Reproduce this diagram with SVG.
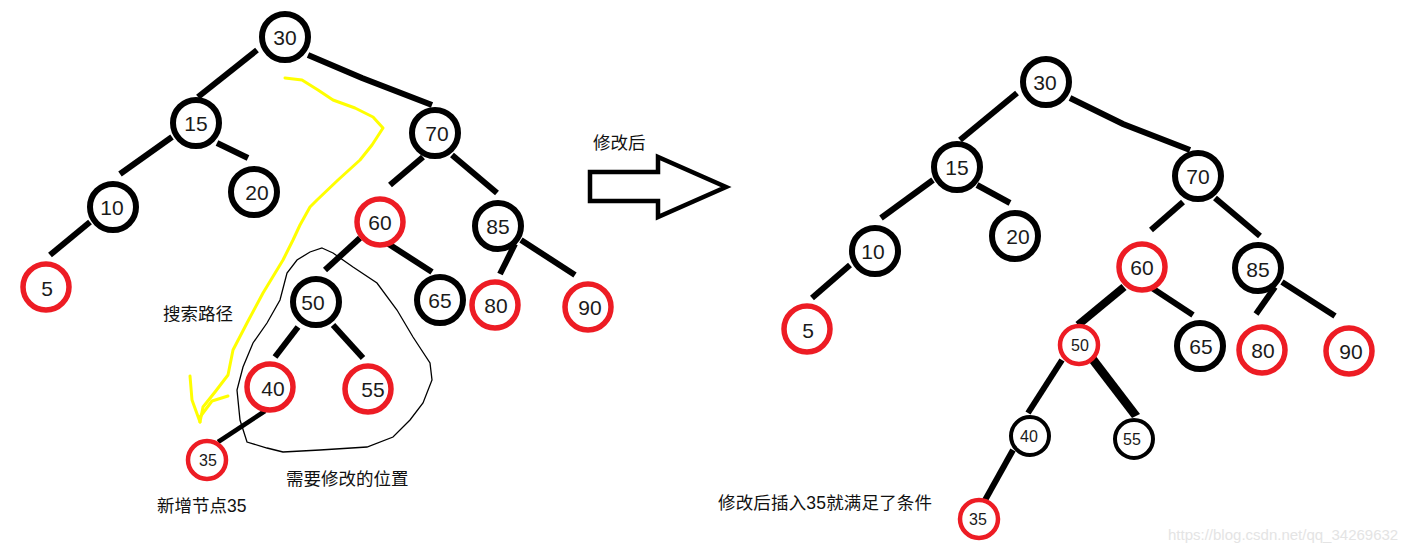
<svg xmlns="http://www.w3.org/2000/svg" width="1420" height="551" viewBox="0 0 1420 551">
<style>
.n{fill:#fff;stroke:#000;stroke-width:6}
.r{fill:#fff;stroke:#ed1c24;stroke-width:5.5}
.ns{fill:#fff;stroke:#000;stroke-width:4}
.rs{fill:#fff;stroke:#ed1c24;stroke-width:4.5}
.t{font-family:"Liberation Sans","Noto Sans CJK SC",sans-serif;font-size:21px;fill:#1a1a1a;text-anchor:middle}
.ts{font-family:"Liberation Sans","Noto Sans CJK SC",sans-serif;font-size:16px;fill:#1a1a1a;text-anchor:middle}
.lab{font-family:"Liberation Sans","Noto Sans CJK SC",sans-serif;font-size:17.5px;fill:#111}
.e{stroke:#000;stroke-width:6;stroke-linecap:butt;fill:none}
</style>
<rect width="1420" height="551" fill="#fff"/>
<g id="connectors">
<line class="e" x1="257" y1="50" x2="198" y2="97"/>
<polyline class="e" points="308,55 362,78 432,105"/>
<line class="e" x1="172" y1="137" x2="120" y2="174"/>
<line class="e" x1="217" y1="143" x2="248" y2="158"/>
<line class="e" x1="90" y1="222" x2="50" y2="255"/>
<line class="e" x1="423" y1="157" x2="390" y2="185"/>
<line class="e" x1="452" y1="155" x2="497" y2="193"/>
<line class="e" x1="360" y1="238" x2="325" y2="270"/>
<line class="e" x1="387" y1="243" x2="432" y2="272"/>
<line class="e" x1="515" y1="244" x2="500" y2="274"/>
<line class="e" x1="521" y1="240" x2="575" y2="275"/>
<line class="e" x1="298" y1="327" x2="275" y2="357"/>
<line class="e" x1="333" y1="325" x2="363" y2="358"/>
<line class="e" style="stroke-width:4.5" x1="265" y1="411" x2="218" y2="442"/>
<line class="e" x1="1017" y1="93" x2="960" y2="140"/>
<polyline class="e" points="1070,98 1123,124 1190,150"/>
<line class="e" x1="933" y1="180" x2="881" y2="218"/>
<line class="e" x1="977" y1="185" x2="1010" y2="203"/>
<line class="e" x1="850" y1="265" x2="812" y2="298"/>
<line class="e" x1="1183" y1="202" x2="1151" y2="230"/>
<line class="e" x1="1215" y1="198" x2="1260" y2="236"/>
<line class="e" x1="1152" y1="288" x2="1193" y2="315"/>
<line class="e" x1="1275" y1="287" x2="1256" y2="314"/>
<line class="e" x1="1282" y1="282" x2="1335" y2="316"/>
<line class="e" style="stroke-width:8" x1="1124" y1="287" x2="1078" y2="325"/>
<line class="e" x1="1062" y1="360" x2="1028" y2="413"/>
<polygon points="1086,358 1095,355 1140,414 1132,418" fill="#000"/>
<line class="e" x1="1013" y1="450" x2="984" y2="502"/>
</g>
<g id="search-path" fill="none" stroke="#ffff00" stroke-width="3" stroke-linejoin="round" stroke-linecap="round">
<polyline points="285,78 302,80 318,90 333,100 355,108 373,117 383,128 372,145 360,160 338,180 317,200 310,207 300,225 293,240 283,260 263,293 247,323 233,350 228,375 215,392 203,407 200,422"/>
<polyline points="190,376 192,400 200,422"/>
<polyline points="228,396 212,401 200,417"/>
</g>
<g id="modify-region">
<polygon fill="none" stroke="#000" stroke-width="1.3" points="322,248 333,253 353,267 377,283 397,310 413,337 430,363 432,380 423,403 410,420 393,437 367,447 320,450 283,452 267,448 247,442 240,420 237,390 243,367 253,343 267,323 280,300 287,273 297,260 310,252"/>
</g>
<g id="L30"><circle class="n" cx="285" cy="37" r="23"/><text class="t" x="285" y="45">30</text></g>
<g id="L15"><circle class="n" cx="196" cy="123" r="23"/><text class="t" x="196" y="131">15</text></g>
<g id="L20"><circle class="n" cx="254" cy="192" r="23"/><text class="t" x="257" y="200">20</text></g>
<g id="L10"><circle class="n" cx="113" cy="207" r="23"/><text class="t" x="112" y="215">10</text></g>
<g id="L5"><circle class="r" cx="46" cy="287" r="23"/><text class="t" x="47" y="296">5</text></g>
<g id="L70"><circle class="n" cx="435" cy="133" r="23"/><text class="t" x="437" y="141">70</text></g>
<g id="L60"><circle class="r" cx="380" cy="222" r="23"/><text class="t" x="380" y="230">60</text></g>
<g id="L85"><circle class="n" cx="498" cy="226" r="23"/><text class="t" x="498" y="234">85</text></g>
<g id="L65"><circle class="n" cx="440" cy="300" r="23"/><text class="t" x="440" y="308">65</text></g>
<g id="L80"><circle class="r" cx="495" cy="305" r="23"/><text class="t" x="496" y="313">80</text></g>
<g id="L90"><circle class="r" cx="588" cy="307" r="23"/><text class="t" x="590" y="315">90</text></g>
<g id="L50"><circle class="n" cx="316" cy="302" r="23"/><text class="t" x="313" y="310">50</text></g>
<g id="L40"><circle class="r" cx="270" cy="387" r="23"/><text class="t" x="273" y="396">40</text></g>
<g id="L55"><circle class="r" cx="368" cy="389" r="23"/><text class="t" x="373" y="397">55</text></g>
<g id="L35"><circle class="rs" cx="207" cy="460" r="19"/><text class="ts" x="208" y="466">35</text></g>
<g id="arrow"><polygon points="590,172 658,172 658,157 726,187 658,217 658,201 590,201" fill="#fff" stroke="#000" stroke-width="4.5" stroke-linejoin="miter"/></g>
<g id="R30"><circle class="n" cx="1046" cy="82" r="23"/><text class="t" x="1045" y="90">30</text></g>
<g id="R15"><circle class="n" cx="957" cy="167" r="23"/><text class="t" x="957" y="175">15</text></g>
<g id="R20"><circle class="n" cx="1015" cy="236" r="23"/><text class="t" x="1018" y="244">20</text></g>
<g id="R10"><circle class="n" cx="875" cy="251" r="23"/><text class="t" x="873" y="259">10</text></g>
<g id="R5"><circle class="r" cx="807" cy="329" r="23"/><text class="t" x="808" y="338">5</text></g>
<g id="R70"><circle class="n" cx="1198" cy="176" r="23"/><text class="t" x="1198" y="184">70</text></g>
<g id="R60"><circle class="r" cx="1142" cy="267" r="23"/><text class="t" x="1142" y="275">60</text></g>
<g id="R85"><circle class="n" cx="1258" cy="268" r="23"/><text class="t" x="1258" y="277">85</text></g>
<g id="R65"><circle class="n" cx="1200" cy="346" r="23"/><text class="t" x="1201" y="354">65</text></g>
<g id="R80"><circle class="r" cx="1262" cy="350" r="23"/><text class="t" x="1263" y="358">80</text></g>
<g id="R90"><circle class="r" cx="1349" cy="351" r="23"/><text class="t" x="1351" y="359">90</text></g>
<g id="R50"><circle class="rs" cx="1079" cy="345" r="19"/><text class="ts" x="1080" y="351">50</text></g>
<g id="R40"><circle class="ns" cx="1030" cy="436" r="19"/><text class="ts" x="1029" y="442">40</text></g>
<g id="R55"><circle class="ns" cx="1134" cy="439" r="19"/><text class="ts" x="1132" y="445">55</text></g>
<g id="R35"><circle class="rs" cx="979" cy="519" r="19"/><text class="ts" x="978" y="525">35</text></g>
<g id="labels">
<text class="lab" x="163" y="320">搜索路径</text>
<text class="lab" x="157" y="512">新增节点35</text>
<text class="lab" x="286" y="485">需要修改的位置</text>
<text class="lab" x="593" y="149">修改后</text>
<text class="lab" x="718" y="509" textLength="214" lengthAdjust="spacing">修改后插入35就满足了条件</text>
<text x="1168" y="540" font-family="Liberation Sans, sans-serif" font-size="15" fill="#e4e4e4">https://blog.csdn.net/qq_34269632</text>
</g>
</svg>
